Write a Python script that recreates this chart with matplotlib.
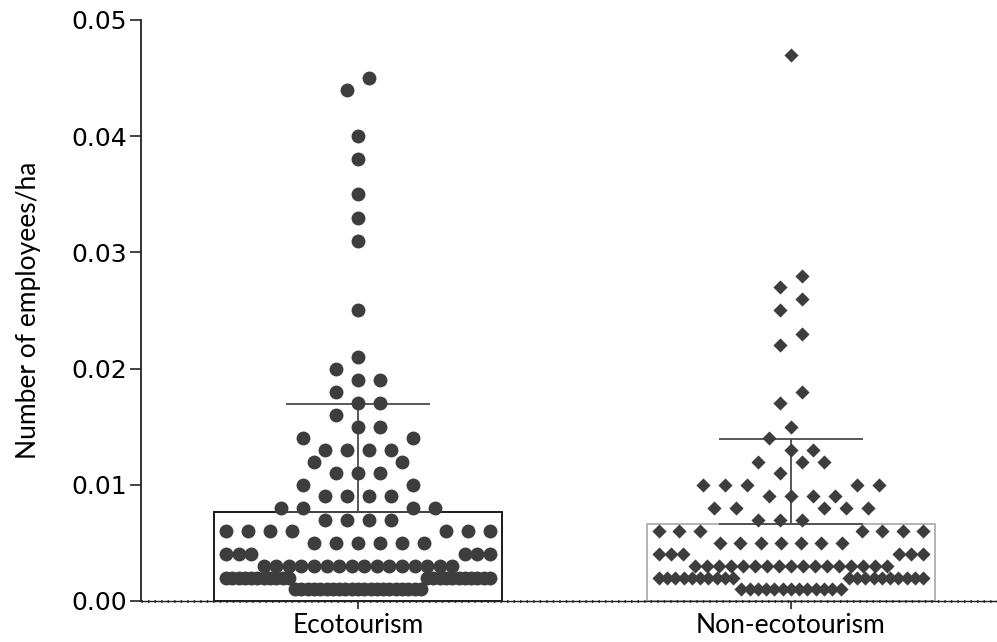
import matplotlib.pyplot as plt
import numpy as np
from matplotlib.ticker import FormatStrFormatter, MultipleLocator

groups = ["Ecotourism", "Non-ecotourism"]

# employees per ha: value and how many dots sit at it
eco_values = [0.001, 0.002, 0.003, 0.004, 0.005, 0.006, 0.007, 0.008, 0.009, 0.010,
              0.011, 0.012, 0.013, 0.014, 0.015, 0.016, 0.017, 0.018, 0.019, 0.020,
              0.021, 0.025, 0.031, 0.033, 0.035, 0.038, 0.040, 0.044, 0.045]
eco_counts = [21, 22, 16, 6, 6, 7, 4, 4, 4, 2,
              3, 2, 4, 2, 2, 1, 2, 1, 2, 1,
              1, 1, 1, 1, 1, 1, 1, 1, 1]

non_values = [0.001, 0.002, 0.003, 0.004, 0.005, 0.006, 0.007, 0.008, 0.009, 0.010,
              0.011, 0.012, 0.013, 0.014, 0.015, 0.017, 0.018, 0.022, 0.023, 0.025,
              0.026, 0.027, 0.028, 0.047]
non_counts = [13, 20, 17, 6, 7, 7, 3, 5, 4, 5,
              1, 3, 2, 1, 1, 1, 1, 1, 1, 1,
              1, 1, 1, 1]

dot_color = "#3d3d3d"


def dot_offsets(vals, bin_h=0.002, step=0.051, spread=0.61):
    # prism-like layout: dots closer than one dot height share a row, centred
    vals = np.sort(vals)
    bins = np.zeros(len(vals), dtype=int)
    start = vals[0]
    for j, v in enumerate(vals):
        if v - start >= bin_h - 1e-9:
            start = v
            bins[j:] += 1
    offs = np.zeros(len(vals))
    for b in np.unique(bins):
        idx = np.where(bins == b)[0]
        n = len(idx)
        s = step if n < 2 else min(step, spread / (n - 1))
        if n % 2:
            k = [0] + [j for i in range(1, n) for j in (i, -i)]
        else:
            k = [j for i in range(n) for j in (-(i + 0.5), i + 0.5)]
        offs[idx] = np.array(k[:n]) * s
    return vals, offs


eco = np.repeat(eco_values, eco_counts)
non = np.repeat(non_values, non_counts)

fig = plt.figure(figsize=(9.97, 6.42), dpi=100)
ax = fig.add_axes([0.1414, 0.0639, 0.8586, 0.905])

styles = [
    dict(marker="o", s=100, edge="#1a1a1a"),
    dict(marker="D", s=52, edge="#b3b3b3"),
]

for i, (data, st) in enumerate(zip([eco, non], styles)):
    mean = data.mean()
    sd = data.std(ddof=1)
    ax.bar(i, mean, width=0.667, color="white", edgecolor=st["edge"],
           linewidth=1.4, zorder=1)
    ax.errorbar(i, mean, yerr=[[0], [sd]], color="#4a4a4a", elinewidth=1.3,
                capsize=52, capthick=1.3, zorder=2)
    vals, offs = dot_offsets(data)
    ax.scatter(i + offs, vals, marker=st["marker"], s=st["s"], color=dot_color,
               linewidths=0, zorder=3, clip_on=False)

ax.set_xlim(-0.5012, 1.4758)
ax.set_ylim(0, 0.05)
ax.yaxis.set_major_locator(MultipleLocator(0.01))
ax.yaxis.set_major_formatter(FormatStrFormatter("%.2f"))

ax.spines["top"].set_visible(False)
ax.spines["right"].set_visible(False)
ax.spines["left"].set_linewidth(1.3)
ax.spines["left"].set_color("#222222")
ax.spines["bottom"].set_linewidth(1.0)
ax.spines["bottom"].set_color("#222222")
# dotted look of the zero line
ax.plot([-0.5012, 1.4758], [0, 0], color="#222222", lw=2,
        linestyle=(0, (0.5, 1.85)), zorder=4, clip_on=False)

ax.set_xticks([0, 1])
ax.set_xticklabels(groups, fontsize=19, fontfamily="Lato")
ax.tick_params(axis="x", length=6, width=1.2, pad=3, colors="#222222",
               labelcolor="black")
ax.tick_params(axis="y", length=8, width=1.2, pad=2, labelsize=18,
               colors="#222222", labelcolor="black")

ax.set_ylabel("Number of employees/ha", fontsize=19, fontfamily="Lato",
              labelpad=22)

fig.savefig("out.png", dpi=100)
